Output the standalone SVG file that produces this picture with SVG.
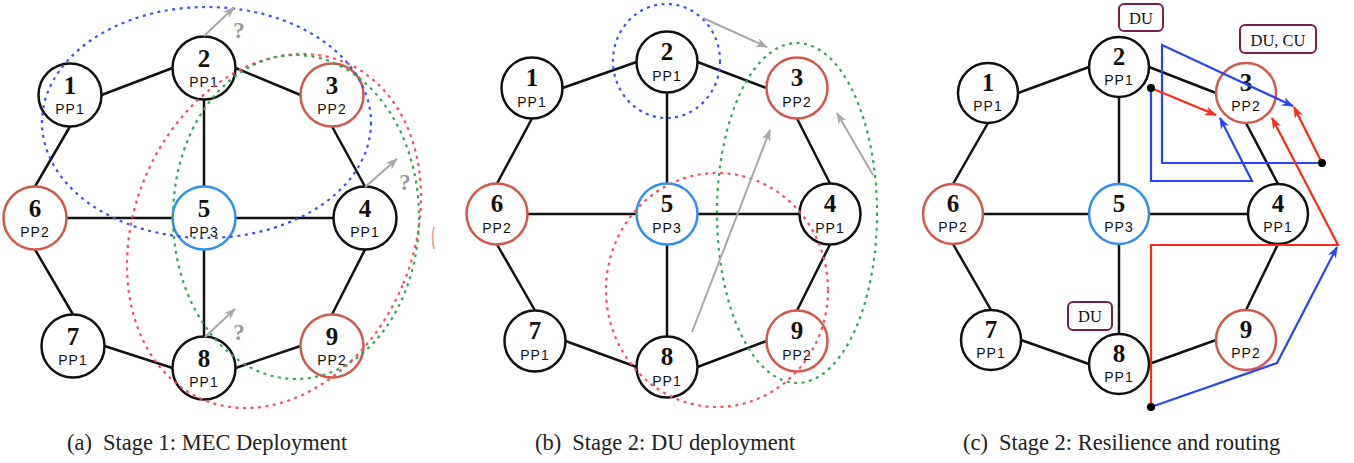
<svg xmlns="http://www.w3.org/2000/svg" width="1354" height="463" viewBox="0 0 1354 463">
  <style>
    .bg { fill: #ffffff; }
    .nd { fill: #ffffff; stroke-width: 2.5; }
    .k { stroke: #111111; }
    .r { stroke: #d4574b; }
    .b { stroke: #2f8ff0; }
    .num { font-family: "Liberation Serif", "Times New Roman", serif; font-weight: bold; font-size: 25px; text-anchor: middle; fill: #111111; }
    .pp { font-family: "Liberation Sans", Arial, sans-serif; font-size: 14px; letter-spacing: 1px; text-anchor: middle; fill: #111111; }
    .edge { stroke: #111111; stroke-width: 2.5; fill: none; }
    .dot { fill: none; stroke-width: 2.2; stroke-dasharray: 3 4.5; }
    .dblue { stroke: #3a55e8; }
    .dred { stroke: #f0505f; }
    .dgreen { stroke: #3aa655; }
    .garrow { stroke: #a8a8a8; stroke-width: 2; fill: none; marker-end: url(#ah-gray); }
    .qm { font-family: "Liberation Serif", "Times New Roman", serif; font-weight: bold; font-size: 23px; text-anchor: middle; fill: #9a9a9a; }
    .rline { stroke: #ff2a14; stroke-width: 2.2; fill: none; }
    .bline { stroke: #2b45f5; stroke-width: 2.2; fill: none; }
    .tag rect { fill: #ffffff; stroke: #7a2050; stroke-width: 2; }
    .tag text { font-family: "Liberation Serif", "Times New Roman", serif; font-size: 16.5px; text-anchor: middle; fill: #111111; }
    .cap { font-family: "Liberation Serif", "Times New Roman", serif; font-size: 22.5px; fill: #222222; }
  </style>
  <defs>
    <marker id="ah-gray" viewBox="0 0 12 9" refX="11" refY="4.5" markerWidth="12" markerHeight="9" markerUnits="userSpaceOnUse" orient="auto">
      <path d="M0,0 L12,4.5 L0,9 L3.5,4.5 Z" fill="#a8a8a8"/>
    </marker>
    <marker id="ah-red" viewBox="0 0 12 9" refX="11" refY="4.5" markerWidth="12" markerHeight="9" markerUnits="userSpaceOnUse" orient="auto">
      <path d="M0,0 L12,4.5 L0,9 L3.5,4.5 Z" fill="#ff2a14"/>
    </marker>
    <marker id="ah-blue" viewBox="0 0 12 9" refX="11" refY="4.5" markerWidth="12" markerHeight="9" markerUnits="userSpaceOnUse" orient="auto">
      <path d="M0,0 L12,4.5 L0,9 L3.5,4.5 Z" fill="#2b45f5"/>
    </marker>
  </defs>

  <rect class="bg" x="0" y="0" width="1354" height="463"/>

  <!-- ===================== (a) Stage 1: MEC Deployment ===================== -->
  <g id="panel-a">
    <g id="a-links">
      <line class="edge" x1="101.5" y1="95" x2="172.5" y2="68"/>
      <line class="edge" x1="235.5" y1="68" x2="300.5" y2="95"/>
      <line class="edge" x1="70" y1="126.5" x2="35" y2="186.5"/>
      <line class="edge" x1="204" y1="99.5" x2="204" y2="186.5"/>
      <line class="edge" x1="332" y1="126.5" x2="365" y2="186.5"/>
      <line class="edge" x1="66.5" y1="218" x2="172.5" y2="218"/>
      <line class="edge" x1="235.5" y1="218" x2="333.5" y2="218"/>
      <line class="edge" x1="35" y1="249.5" x2="73" y2="314.5"/>
      <line class="edge" x1="204" y1="249.5" x2="204" y2="336.5"/>
      <line class="edge" x1="365" y1="249.5" x2="332" y2="314.5"/>
      <line class="edge" x1="104.5" y1="346" x2="172.5" y2="368"/>
      <line class="edge" x1="235.5" y1="368" x2="300.5" y2="346"/>
    </g>
    <g id="a-n1"><circle class="nd k" cx="70" cy="95" r="31.5"/><text class="num" x="70" y="93.5">1</text><text class="pp" x="70" y="113.5">PP1</text></g>
    <g id="a-n2"><circle class="nd k" cx="204" cy="68" r="31.5"/><text class="num" x="204" y="66.5">2</text><text class="pp" x="204" y="86.5">PP1</text></g>
    <g id="a-n3"><circle class="nd r" cx="332" cy="95" r="31.5"/><text class="num" x="332" y="93.5">3</text><text class="pp" x="332" y="113.5">PP2</text></g>
    <g id="a-n6"><circle class="nd r" cx="35" cy="218" r="31.5"/><text class="num" x="35" y="216.5">6</text><text class="pp" x="35" y="236.5">PP2</text></g>
    <g id="a-n5"><circle class="nd b" cx="204" cy="218" r="31.5"/><text class="num" x="204" y="216.5">5</text><text class="pp" x="204" y="236.5">PP3</text></g>
    <g id="a-n4"><circle class="nd k" cx="365" cy="218" r="31.5"/><text class="num" x="365" y="216.5">4</text><text class="pp" x="365" y="236.5">PP1</text></g>
    <g id="a-n7"><circle class="nd k" cx="73" cy="346" r="31.5"/><text class="num" x="73" y="344.5">7</text><text class="pp" x="73" y="364.5">PP1</text></g>
    <g id="a-n8"><circle class="nd k" cx="204" cy="368" r="31.5"/><text class="num" x="204" y="366.5">8</text><text class="pp" x="204" y="386.5">PP1</text></g>
    <g id="a-n9"><circle class="nd r" cx="332" cy="346" r="31.5"/><text class="num" x="332" y="344.5">9</text><text class="pp" x="332" y="364.5">PP2</text></g>

    <g id="a-clusters">
      <ellipse class="dot dblue" cx="206.5" cy="122.5" rx="164.5" ry="115.5"/>
      <ellipse class="dot dred" cx="274" cy="231" rx="139.6" ry="182.9" transform="rotate(22.9 274 231)"/>
      <ellipse class="dot dgreen" cx="296" cy="217" rx="123" ry="162"/>
      <path d="M434,227 Q431,238 434,249" fill="none" stroke="#e07068" stroke-width="1.6" opacity="0.7"/>
    </g>
    <g id="a-moves">
      <line class="garrow" x1="204" y1="36" x2="234" y2="7.5"/>
      <line class="garrow" x1="365" y1="187" x2="397" y2="159"/>
      <line class="garrow" x1="205" y1="337" x2="235" y2="309"/>
      <text class="qm" x="239" y="38">?</text>
      <text class="qm" x="405" y="190">?</text>
      <text class="qm" x="239" y="340">?</text>
    </g>
    <text class="cap" x="67" y="450">(a)<tspan dx="11">Stage 1: MEC Deployment</tspan></text>
  </g>

  <!-- ===================== (b) Stage 2: DU deployment ===================== -->
  <g id="panel-b">
    <g id="b-links">
      <line class="edge" x1="562.5" y1="88" x2="636.5" y2="62"/>
      <line class="edge" x1="697.5" y1="62" x2="766.5" y2="88"/>
      <line class="edge" x1="532" y1="118.5" x2="497" y2="183.5"/>
      <line class="edge" x1="667" y1="92.5" x2="667" y2="183.5"/>
      <line class="edge" x1="797" y1="118.5" x2="830" y2="183.5"/>
      <line class="edge" x1="527.5" y1="214" x2="636.5" y2="214"/>
      <line class="edge" x1="697.5" y1="214" x2="799.5" y2="214"/>
      <line class="edge" x1="497" y1="244.5" x2="535" y2="310.5"/>
      <line class="edge" x1="667" y1="244.5" x2="667" y2="336.5"/>
      <line class="edge" x1="830" y1="244.5" x2="797" y2="310.5"/>
      <line class="edge" x1="565.5" y1="341" x2="636.5" y2="367"/>
      <line class="edge" x1="697.5" y1="367" x2="766.5" y2="341"/>
    </g>
    <g id="b-n1"><circle class="nd k" cx="532" cy="88" r="30.5"/><text class="num" x="532" y="86">1</text><text class="pp" x="532" y="106.5">PP1</text></g>
    <g id="b-n2"><circle class="nd k" cx="667" cy="62" r="30.5"/><text class="num" x="667" y="60">2</text><text class="pp" x="667" y="80.5">PP1</text></g>
    <g id="b-n3"><circle class="nd r" cx="797" cy="88" r="30.5"/><text class="num" x="797" y="86">3</text><text class="pp" x="797" y="106.5">PP2</text></g>
    <g id="b-n6"><circle class="nd r" cx="497" cy="214" r="30.5"/><text class="num" x="497" y="212">6</text><text class="pp" x="497" y="232.5">PP2</text></g>
    <g id="b-n5"><circle class="nd b" cx="667" cy="214" r="30.5"/><text class="num" x="667" y="212">5</text><text class="pp" x="667" y="232.5">PP3</text></g>
    <g id="b-n4"><circle class="nd k" cx="830" cy="214" r="30.5"/><text class="num" x="830" y="212">4</text><text class="pp" x="830" y="232.5">PP1</text></g>
    <g id="b-n7"><circle class="nd k" cx="535" cy="341" r="30.5"/><text class="num" x="535" y="339">7</text><text class="pp" x="535" y="359.5">PP1</text></g>
    <g id="b-n8"><circle class="nd k" cx="667" cy="367" r="30.5"/><text class="num" x="667" y="365">8</text><text class="pp" x="667" y="385.5">PP1</text></g>
    <g id="b-n9"><circle class="nd r" cx="797" cy="341" r="30.5"/><text class="num" x="797" y="339">9</text><text class="pp" x="797" y="359.5">PP2</text></g>

    <g id="b-clusters">
      <ellipse class="dot dblue" cx="666.5" cy="61" rx="53.5" ry="57"/>
      <ellipse class="dot dgreen" cx="797" cy="213" rx="80" ry="170"/>
      <ellipse class="dot dred" cx="717" cy="290" rx="111" ry="117"/>
    </g>
    <g id="b-moves">
      <line class="garrow" x1="703" y1="18" x2="767" y2="47"/>
      <line class="garrow" x1="692" y1="332" x2="770" y2="130"/>
      <line class="garrow" x1="873" y1="175" x2="837" y2="113"/>
    </g>
    <text class="cap" x="535" y="450">(b)<tspan dx="11">Stage 2: DU deployment</tspan></text>
  </g>

  <!-- ================= (c) Stage 2: Resilience and routing ================= -->
  <g id="panel-c">
    <g id="c-links">
      <line class="edge" x1="1018" y1="93" x2="1089" y2="67"/>
      <line class="edge" x1="1149" y1="67" x2="1216" y2="93"/>
      <line class="edge" x1="988" y1="123" x2="953" y2="184"/>
      <line class="edge" x1="1119" y1="97" x2="1119" y2="184"/>
      <line class="edge" x1="1246" y1="123" x2="1278" y2="184"/>
      <line class="edge" x1="983" y1="214" x2="1089" y2="214"/>
      <line class="edge" x1="1149" y1="214" x2="1248" y2="214"/>
      <line class="edge" x1="953" y1="244" x2="991" y2="310"/>
      <line class="edge" x1="1119" y1="244" x2="1119" y2="334"/>
      <line class="edge" x1="1278" y1="244" x2="1246" y2="310"/>
      <line class="edge" x1="1021" y1="340" x2="1089" y2="364"/>
      <line class="edge" x1="1149" y1="364" x2="1216" y2="340"/>
    </g>
    <g id="c-n1"><circle class="nd k" cx="988" cy="93" r="30"/><text class="num" x="988" y="91">1</text><text class="pp" x="988" y="111">PP1</text></g>
    <g id="c-n2"><circle class="nd k" cx="1119" cy="67" r="30"/><text class="num" x="1119" y="65">2</text><text class="pp" x="1119" y="85">PP1</text></g>
    <g id="c-n3"><circle class="nd r" cx="1246" cy="93" r="30"/><text class="num" x="1246" y="91">3</text><text class="pp" x="1246" y="111">PP2</text></g>
    <g id="c-n6"><circle class="nd r" cx="953" cy="214" r="30"/><text class="num" x="953" y="212">6</text><text class="pp" x="953" y="232">PP2</text></g>
    <g id="c-n5"><circle class="nd b" cx="1119" cy="214" r="30"/><text class="num" x="1119" y="212">5</text><text class="pp" x="1119" y="232">PP3</text></g>
    <g id="c-n4"><circle class="nd k" cx="1278" cy="214" r="30"/><text class="num" x="1278" y="212">4</text><text class="pp" x="1278" y="232">PP1</text></g>
    <g id="c-n7"><circle class="nd k" cx="991" cy="340" r="30"/><text class="num" x="991" y="338">7</text><text class="pp" x="991" y="358">PP1</text></g>
    <g id="c-n8"><circle class="nd k" cx="1119" cy="364" r="30"/><text class="num" x="1119" y="362">8</text><text class="pp" x="1119" y="382">PP1</text></g>
    <g id="c-n9"><circle class="nd r" cx="1246" cy="340" r="30"/><text class="num" x="1246" y="338">9</text><text class="pp" x="1246" y="358">PP2</text></g>

    <g id="c-tags">
      <g class="tag" id="tag-du-2"><rect x="1119" y="4" width="44" height="27" rx="5"/><text x="1141" y="23.5">DU</text></g>
      <g class="tag" id="tag-ducu-3"><rect x="1240" y="25" width="76" height="28" rx="5"/><text x="1278" y="45.5">DU, CU</text></g>
      <g class="tag" id="tag-du-8"><rect x="1068" y="302" width="44" height="28" rx="5"/><text x="1090" y="321.5">DU</text></g>
    </g>

    <g id="c-routes">
      <path class="bline" d="M1322,163 L1162,163 L1162,45 L1293,106" marker-end="url(#ah-blue)"/>
      <path class="rline" d="M1322,163 L1294,107" marker-end="url(#ah-red)"/>
      <path class="rline" d="M1151,88 L1216,115" marker-end="url(#ah-red)"/>
      <path class="bline" d="M1151,88 L1151,181 L1252,181 L1220,118" marker-end="url(#ah-blue)"/>
      <path class="rline" d="M1151,407 L1151,245 L1338,245 L1272,118" marker-end="url(#ah-red)"/>
      <path class="bline" d="M1151,407 L1277,363 L1337,247" marker-end="url(#ah-blue)"/>
      <circle cx="1151" cy="88" r="4" fill="#000000"/>
      <circle cx="1322" cy="163" r="4" fill="#000000"/>
      <circle cx="1151" cy="407" r="4" fill="#000000"/>
    </g>
    <text class="cap" x="963" y="450">(c)<tspan dx="11">Stage 2: Resilience and routing</tspan></text>
  </g>
</svg>
